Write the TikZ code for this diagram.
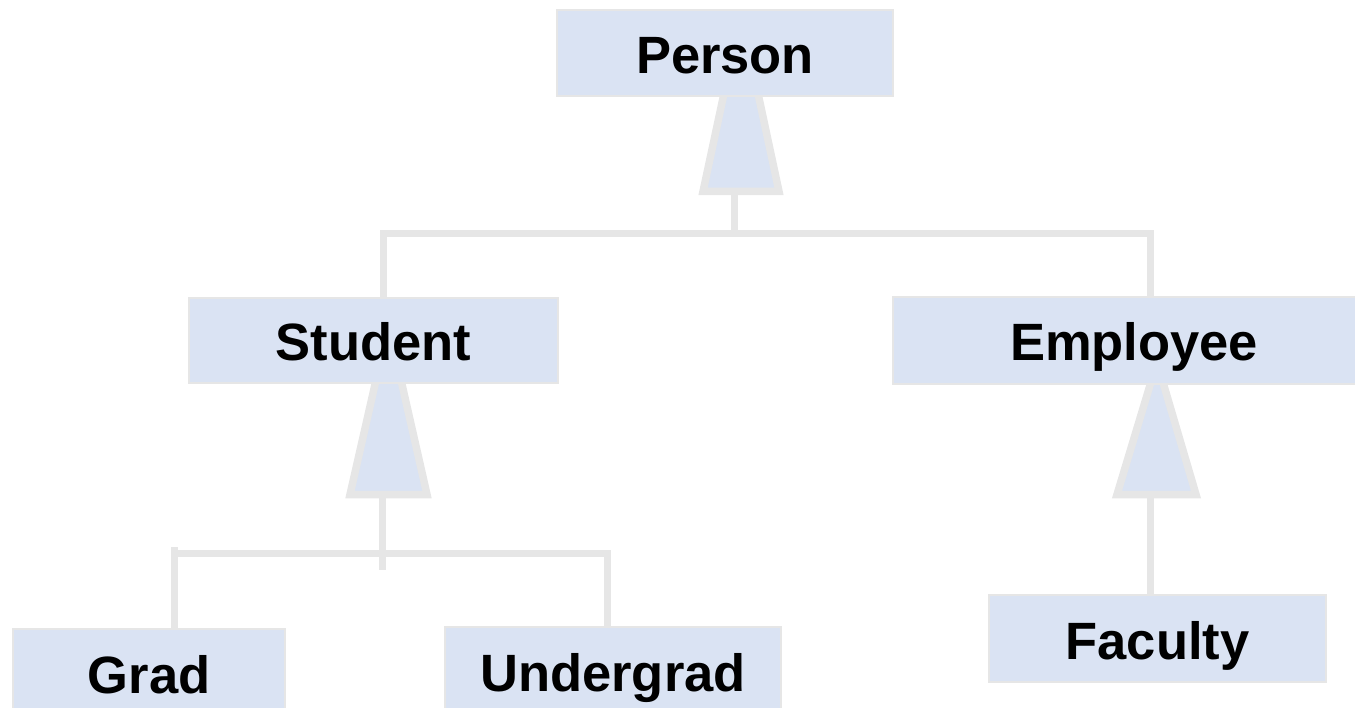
\documentclass[tikz,border=0pt]{standalone}
\usepackage{fontspec}
\setmainfont{Liberation Sans}
\usetikzlibrary{backgrounds}
\definecolor{boxfill}{HTML}{DAE3F3}
\definecolor{linegray}{HTML}{E6E6E6}
\begin{document}
\begin{tikzpicture}[x=1pt,y=-1pt,
  cls/.style={fill=boxfill, draw=linegray, line width=2pt, inner sep=0pt,
    text height=41pt, text depth=0pt,
    font=\fontsize{52.5}{56}\selectfont\bfseries},
  conn/.style={draw=linegray, line width=7pt},
  gtri/.style={draw=linegray, fill=boxfill, line width=7.5pt, miter limit=2}]
\useasboundingbox (0,0) rectangle (1355,708);
\node[cls, minimum width=336pt, minimum height=86pt] (person) at (725,53) {Person};
\node[cls, minimum width=369pt, minimum height=85pt] (student) at (373.5,340.5) {Student};
\node[cls, minimum width=482pt, minimum height=87pt] (employee) at (1134,340.5) {Employee};
\node[cls, minimum width=272pt, minimum height=87pt] (grad) at (149,672.5) {Grad};
\node[cls, minimum width=336pt, minimum height=87pt] (undergrad) at (613,670.5) {Undergrad};
\node[cls, minimum width=337pt, minimum height=87pt] (faculty) at (1157.5,638.5) {Faculty};
\begin{scope}[on background layer]
  \coordinate (pbase) at (734,191.5);
  \coordinate (j1) at (734,234);
  \coordinate (sbase) at (382,494.5);
  \coordinate (j2) at (382,570);
  \coordinate (j2h) at (382,553);
  \coordinate (ebase) at (1150,494.5);
  % connectors
  \draw[conn] (pbase) -- (j1);
  \draw[conn] ([xshift=9.5pt]student.north) |- (j1) -| ([xshift=16pt]employee.north);
  \draw[conn] (sbase) -- (j2);
  \draw[conn] ([xshift=25pt]grad.north) -- ([xshift=25pt,yshift=81pt]grad.north) |- (j2h) -| ([xshift=-6pt]undergrad.north);
  \draw[conn] (ebase) -- ([xshift=-7.5pt]faculty.north);
  % generalization triangles
  \draw[gtri] (741,14) -- (703,191.5) -- (779,191.5) -- cycle;
  \draw[gtri] (388.5,325) -- (350,494.5) -- (427,494.5) -- cycle;
  \draw[gtri] (1157,362) -- (1117,494.5) -- (1196,494.5) -- cycle;
\end{scope}
\end{tikzpicture}
\end{document}
